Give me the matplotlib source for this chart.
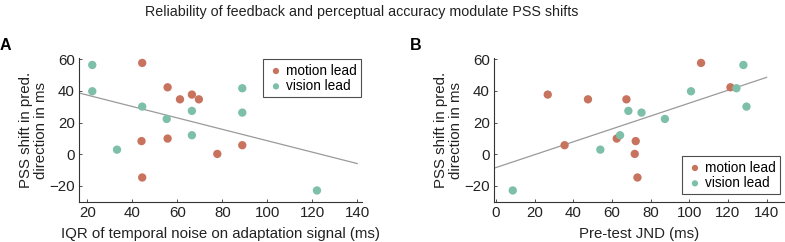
import numpy as np
import matplotlib
matplotlib.use("Agg")
import matplotlib.pyplot as plt

plt.rcParams['font.family'] = ['Liberation Sans', 'DejaVu Sans']

title = "Reliability of feedback and perceptual accuracy modulate PSS shifts"
ylabel = "PSS shift in pred.\ndirection in ms"
xlabel_A = "IQR of temporal noise on adaptation signal (ms)"
xlabel_B = "Pre-test JND (ms)"
legend_labels = ["motion lead", "vision lead"]

# PSS shifts (shared by both panels)
motion_pss = [57.7, 42.3, 34.7, 37.7, 34.7, 9.9, 8.3, 0.2, 5.7, -14.7]
vision_pss = [56.4, 39.8, 30.1, 22.3, 27.4, 12.0, 41.7, 26.3, 2.9, -22.9]

# Panel A x: IQR of temporal noise
motion_iqr = [44.4, 55.7, 61.2, 66.5, 69.6, 55.7, 44.1, 77.8, 88.9, 44.4]
vision_iqr = [22.2, 22.2, 44.4, 55.3, 66.5, 66.5, 88.9, 88.9, 33.2, 122.1]

# Panel B x: pre-test JND (same subject order as PSS lists)
motion_jnd = [106.1, 121.3, 47.6, 26.8, 67.5, 62.5, 72.3, 71.8, 35.5, 73.2]
vision_jnd = [128.0, 100.9, 129.6, 87.4, 68.5, 64.2, 124.4, 75.3, 54.0, 8.7]

xticks_A = [20, 40, 60, 80, 100, 120, 140]
xticks_B = [0, 20, 40, 60, 80, 100, 120, 140]
yticks = [-20, 0, 20, 40, 60]

red = "#C8735E"
green = "#7DBFA9"
W, H = 785, 242
fig = plt.figure(figsize=(W/100, H/100), dpi=100)

def px_axes(l, r, t, b):
    return fig.add_axes([l/W, 1 - b/H, (r-l)/W, (b-t)/H])

axA = px_axes(79, 361.7, 58.5, 201.7)
axB = px_axes(494, 784, 58.5, 201.7)

fs = 10.8
for ax, mx, vx, xl, xlim, xt in [(axA, motion_iqr, vision_iqr, xlabel_A, (16.3, 142), xticks_A),
                                 (axB, motion_jnd, vision_jnd, xlabel_B, (-1.0, 149), xticks_B)]:
    allx = np.array(mx + vx)
    ally = np.array(motion_pss + vision_pss)
    slope, icpt = np.polyfit(allx, ally, 1)
    xs = np.array([xlim[0], 140])
    ax.plot(xs, icpt + slope*xs, color="#9a9a9a", lw=0.9, zorder=1)
    ax.scatter(mx, motion_pss, s=36, color=red, edgecolors='none', zorder=3,
               label=legend_labels[0], clip_on=False)
    ax.scatter(vx, vision_pss, s=36, color=green, edgecolors='none', zorder=3,
               label=legend_labels[1], clip_on=False)
    ax.set_xlim(*xlim)
    ax.set_ylim(-30, 60.5)
    ax.set_xticks(xt)
    ax.set_yticks(yticks)
    ax.spines['top'].set_visible(False)
    ax.spines['right'].set_visible(False)
    for s in ['left', 'bottom']:
        ax.spines[s].set_color("#333333")
        ax.spines[s].set_linewidth(0.8)
    ax.tick_params(direction='in', length=2.5, width=0.6, colors="#333333",
                   labelsize=fs, labelcolor="#222222", pad=3)
    ax.set_xlabel(xl, fontsize=fs, color="#222222", labelpad=5)
    ax.set_ylabel(ylabel, fontsize=fs, color="#222222", labelpad=1, linespacing=1.05)

leg_kw = dict(fontsize=9.8, frameon=True, fancybox=False, edgecolor="#222222",
              handletextpad=0.1, borderpad=0.3, labelspacing=0.1,
              handlelength=1.3, markerscale=0.75, borderaxespad=0)
legA = axA.legend(loc='upper right', bbox_to_anchor=(361/W, 1 - 59.5/H),
                  bbox_transform=fig.transFigure, **leg_kw)
legA.get_frame().set_linewidth(0.8)
legB = axB.legend(loc='lower right', bbox_to_anchor=(780/W, 1 - 194/H),
                  bbox_transform=fig.transFigure, **leg_kw)
legB.get_frame().set_linewidth(0.8)

fig.text(361.5/W, 1 - 12/H, title, ha='center', va='center', fontsize=10.3, color="#222222")
fig.text(0/W, 1 - 46/H, "A", ha='left', va='center', fontsize=11.5, fontweight='bold')
fig.text(410/W, 1 - 46/H, "B", ha='left', va='center', fontsize=11.5, fontweight='bold')

fig.savefig("out.png", dpi=100)
